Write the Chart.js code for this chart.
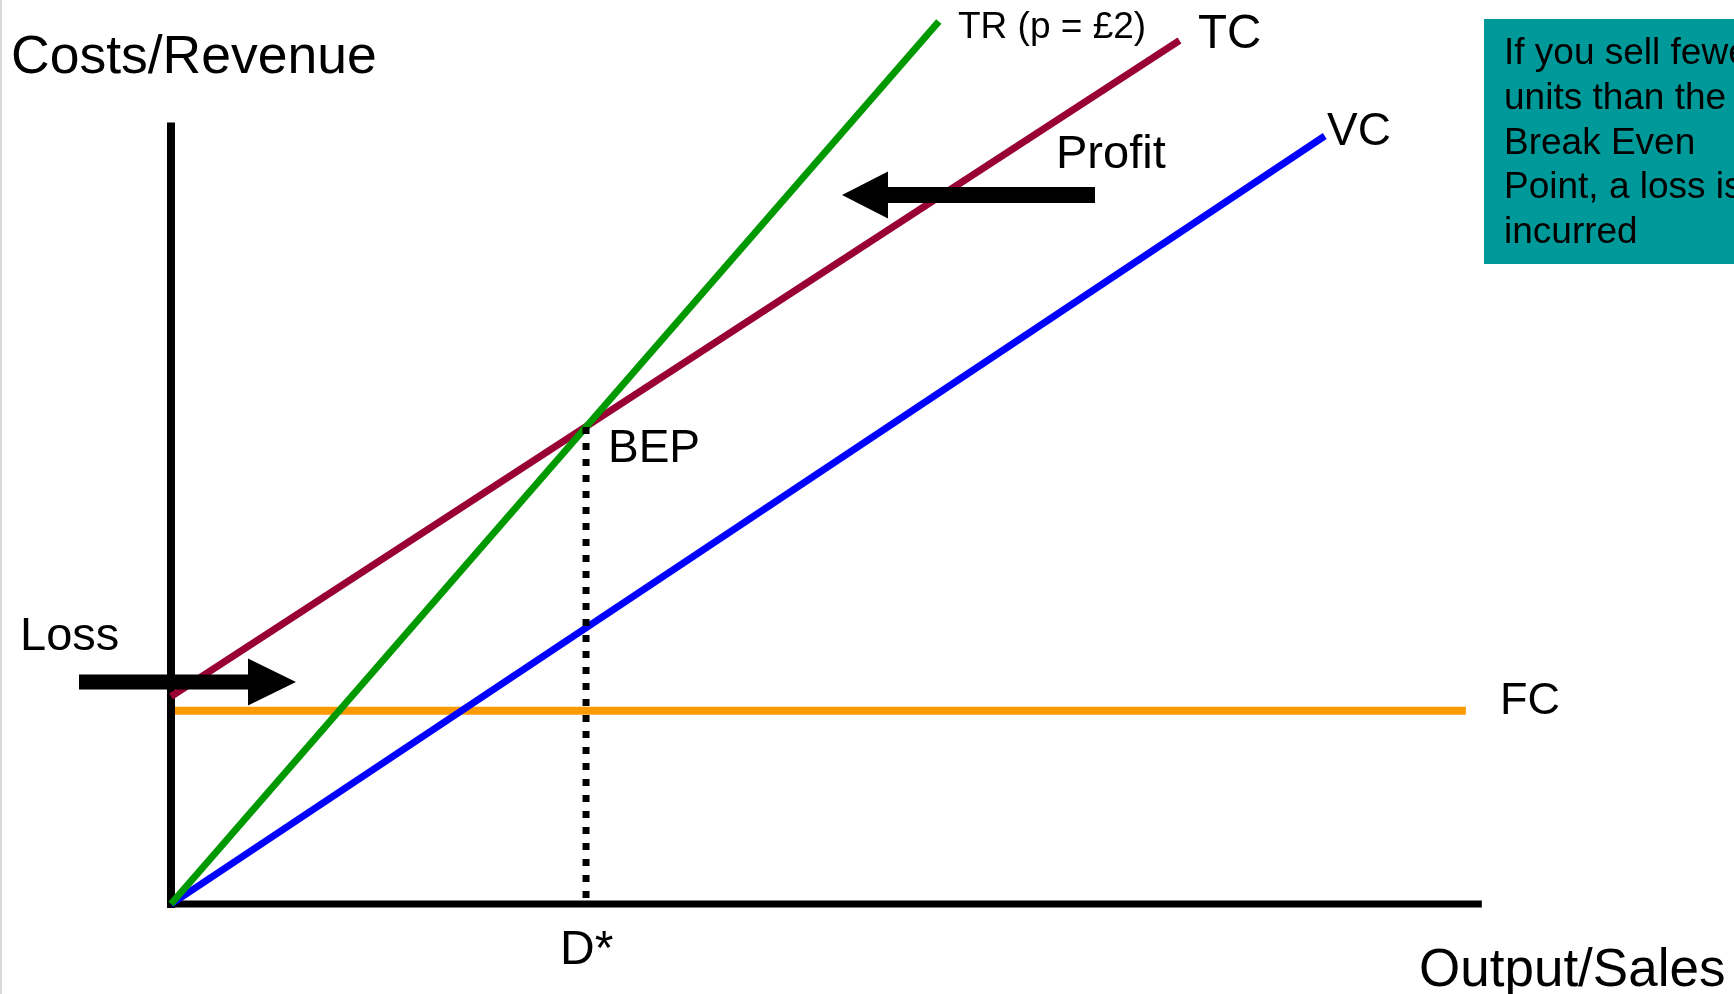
<!DOCTYPE html>
<html>
<head>
<meta charset="utf-8">
<title>Break Even</title>
<script src="https://cdn.jsdelivr.net/npm/chart.js@4/dist/chart.umd.min.js"></script>
<style>
  body { margin: 0; background: #fff; }
  canvas { display: block; }
</style>
</head>
<body>
<canvas id="bepChart" width="1734" height="994"></canvas>
<script>
// values (output in units, costs in £, p = £2)
const trOutput = [0, 185];
const trRevenue = [0, 370];
const tcOutput = [0, 243];
const tcCost = [87, 362];
const vcOutput = [0, 278];
const vcCost = [0, 322];
const fcOutput = [0, 312];
const fcCost = [81, 81];
const bepOutput = [100, 100];
const bepLevel = [200, 0];
// axes
const yAxisOutput = [0, 0];
const yAxisLevel = [0, 326];
const xAxisOutput = [0, 315];
const xAxisLevel = [0, 0];

const toPoints = (xs, ys) => xs.map((x, i) => ({ x: x, y: ys[i] }));

const FONT = "'Liberation Sans', Arial, sans-serif";

function line(label, xs, ys, color, extra) {
    return Object.assign({
        label: label,
        data: toPoints(xs, ys),
        showLine: true,
        borderColor: color,
        backgroundColor: color,
        borderWidth: 7,
        pointRadius: 0,
        fill: false
    }, extra || {});
}

// texts, arrows and the teal note box
const overlay = {
    id: 'overlay',
    afterDatasetsDraw(chart) {
        const ctx = chart.ctx;
        ctx.save();

        // faint page edge on the left
        ctx.fillStyle = '#d9d9d9';
        ctx.fillRect(0, 0, 2, 994);

        // arrows
        ctx.fillStyle = '#000';
        arrow(ctx, 79, 296, 682, 7.5, 23.5, 48);
        arrow(ctx, 1095, 842, 195, 8, 23.5, 46);

        // teal box
        ctx.fillStyle = '#009999';
        ctx.fillRect(1484, 19, 250, 245);

        ctx.fillStyle = '#000';
        ctx.textBaseline = 'alphabetic';
        ctx.textAlign = 'left';
        const texts = [
            ['Costs/Revenue', 11, 73, 53.5],
            ['Output/Sales', 1419, 986, 53],
            ['Loss', 20, 650, 47],
            ['BEP', 608, 462, 46],
            ['Profit', 1056, 168, 47],
            ['TC', 1198, 48, 47.5],
            ['VC', 1327, 145, 46],
            ['FC', 1500, 714, 45],
            ['D*', 560, 964, 48],
            ['TR (p = £2)', 958, 38, 37]
        ];
        texts.forEach(t => {
            ctx.font = t[3] + 'px ' + FONT;
            ctx.fillText(t[0], t[1], t[2]);
        });

        const note = ['If you sell fewer', 'units than the', 'Break Even', 'Point, a loss is', 'incurred'];
        ctx.font = '37px ' + FONT;
        note.forEach((s, i) => ctx.fillText(s, 1504, 64 + i * 44.8));

        ctx.restore();
    }
};

function arrow(ctx, tail, tip, y, shaftHalf, headHalf, headLen) {
    const dir = tip > tail ? 1 : -1;
    const back = tip - dir * headLen;
    ctx.beginPath();
    ctx.moveTo(tail, y - shaftHalf);
    ctx.lineTo(back, y - shaftHalf);
    ctx.lineTo(back, y - headHalf);
    ctx.lineTo(tip, y);
    ctx.lineTo(back, y + headHalf);
    ctx.lineTo(back, y + shaftHalf);
    ctx.lineTo(tail, y + shaftHalf);
    ctx.closePath();
    ctx.fill();
}

new Chart(document.getElementById('bepChart').getContext('2d'), {
    type: 'scatter',
    data: {
        datasets: [
            line('BEP', bepOutput, bepLevel, '#000', { borderDash: [7, 9], order: 1 }),
            line('TR', trOutput, trRevenue, '#009900', { order: 2 }),
            line('TC', tcOutput, tcCost, '#990033', { order: 3 }),
            line('VC', vcOutput, vcCost, '#0000ff', { order: 4 }),
            line('y axis', yAxisOutput, yAxisLevel, '#000', { borderWidth: 8, borderCapStyle: 'square', order: 5 }),
            line('x axis', xAxisOutput, xAxisLevel, '#000', { borderCapStyle: 'square', order: 6 }),
            line('FC', fcOutput, fcCost, '#ff9900', { borderWidth: 8, order: 7 })
        ]
    },
    options: {
        responsive: false,
        animation: false,
        devicePixelRatio: 1,
        layout: { padding: 0 },
        plugins: {
            legend: { display: false },
            tooltip: { enabled: false }
        },
        scales: {
            x: { type: 'linear', min: -41.2, max: 376.6, display: false },
            y: { type: 'linear', min: -37.7, max: 379.0, display: false }
        }
    },
    plugins: [overlay]
});
</script>
</body>
</html>
